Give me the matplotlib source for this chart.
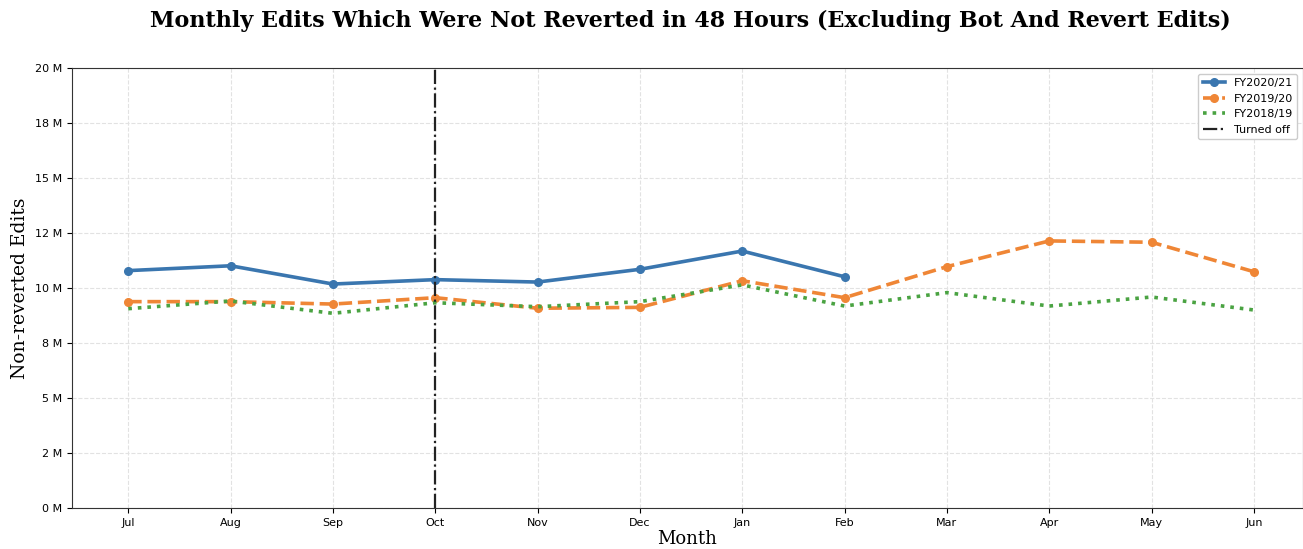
import matplotlib
matplotlib.use("Agg")
import matplotlib.pyplot as plt
from matplotlib.ticker import FuncFormatter, MultipleLocator

months = ["Jul", "Aug", "Sep", "Oct", "Nov", "Dec", "Jan", "Feb", "Mar", "Apr", "May", "Jun"]
fy2021 = [10.79, 11.01, 10.18, 10.38, 10.27, 10.85, 11.68, 10.51]
fy1920 = [9.38, 9.38, 9.27, 9.56, 9.08, 9.12, 10.33, 9.56, 10.97, 12.14, 12.08, 10.74]
fy1819 = [9.06, 9.41, 8.85, 9.33, 9.15, 9.38, 10.14, 9.18, 9.79, 9.18, 9.59, 9.00]
turned_off_month = "Oct"

fig = plt.figure(figsize=(13.03, 5.49), dpi=100)
ax = fig.add_axes([72/1303, 1-508/549, 1-72/1303, (508-68)/549])

x = list(range(len(months)))
ax.plot(x[:len(fy2021)], [v*1e6 for v in fy2021], color="#3a76af", lw=2.6, marker="o", ms=5.5, label="FY2020/21")
ax.plot(x, [v*1e6 for v in fy1920], color="#ef8636", lw=2.6, ls="--", marker="o", ms=5.5, label="FY2019/20")
ax.plot(x, [v*1e6 for v in fy1819], color="#4aa342", lw=2.6, ls=":", label="FY2018/19")
ax.axvline(months.index(turned_off_month), color="#222222", lw=1.6, ls="-.", label="Turned off")

ax.set_xticks(x)
ax.set_xticklabels(months, fontsize=8)
ax.set_xlim(-0.55, 11.48)
ax.set_ylim(0, 20e6)
ax.yaxis.set_major_locator(MultipleLocator(2.5e6))
ax.yaxis.set_major_formatter(FuncFormatter(lambda v, p: "%.0f M" % (v/1e6)))
ax.tick_params(axis="y", labelsize=8)
ax.grid(True, ls="--", color="#e2e2e2", lw=0.8)
ax.set_axisbelow(True)
for s in ax.spines.values():
    s.set_color("#333333")

ax.set_xlabel("Month", family="DejaVu Serif", fontsize=13, labelpad=2)
ax.set_ylabel("Non-reverted Edits", family="DejaVu Serif", fontsize=13.5)
fig.suptitle("Monthly Edits Which Were Not Reverted in 48 Hours (Excluding Bot And Revert Edits)",
             family="DejaVu Serif", fontweight="bold", fontsize=16, x=0.53, y=0.982)
ax.legend(loc="upper right", fontsize=8, framealpha=1, edgecolor="#cccccc")

fig.savefig("out.png", dpi=100)
